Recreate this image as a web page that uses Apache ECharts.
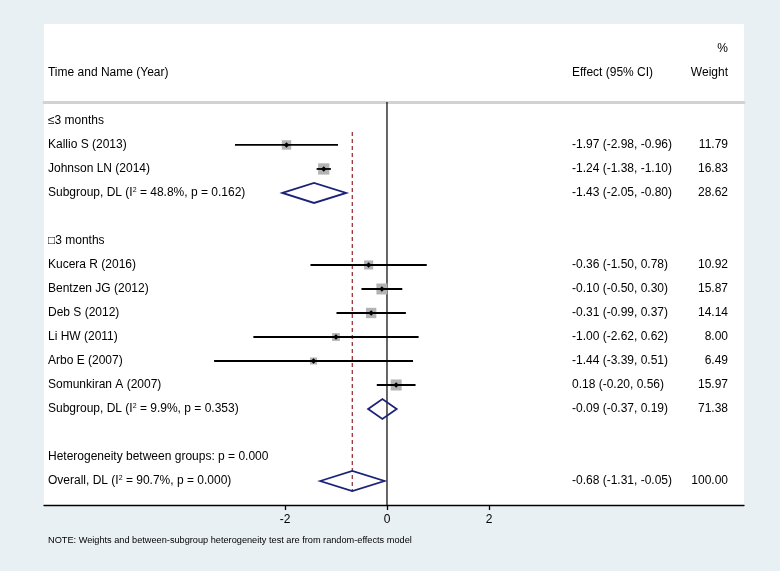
<!DOCTYPE html>
<html>
<head>
<meta charset="utf-8">
<script src="https://cdn.jsdelivr.net/npm/echarts@6/dist/echarts.min.js"></script>
<style>html,body{margin:0;padding:0;background:#e9f0f3;}#c{width:780px;height:571px;}</style>
</head>
<body>
<div id="c"></div>
<script>
// ---- data ----
var rowLabels = [
  "≤3 months",
  "Kallio S (2013)",
  "Johnson LN (2014)",
  "Subgroup, DL (I{sup|2} = 48.8%, p = 0.162)",
  "",
  "□3 months",
  "Kucera R (2016)",
  "Bentzen JG (2012)",
  "Deb S (2012)",
  "Li HW (2011)",
  "Arbo E (2007)",
  "Somunkiran A (2007)",
  "Subgroup, DL (I{sup|2} = 9.9%, p = 0.353)",
  "",
  "Heterogeneity between groups: p = 0.000",
  "Overall, DL (I{sup|2} = 90.7%, p = 0.000)"
];
// study rows: row index, effect, lower, upper, weight
var studyRows    = [1, 2, 6, 7, 8, 9, 10, 11];
var studyEffect  = [-1.97, -1.24, -0.36, -0.10, -0.31, -1.00, -1.44, 0.18];
var studyLower   = [-2.98, -1.38, -1.50, -0.50, -0.99, -2.62, -3.39, -0.20];
var studyUpper   = [-0.96, -1.10, 0.78, 0.30, 0.37, 0.62, 0.51, 0.56];
var studyWeight  = [11.79, 16.83, 10.92, 15.87, 14.14, 8.00, 6.49, 15.97];
// pooled rows (subgroups + overall)
var pooledRows   = [3, 12, 15];
var pooledEffect = [-1.43, -0.09, -0.68];
var pooledLower  = [-2.05, -0.37, -1.31];
var pooledUpper  = [-0.80, 0.19, -0.05];
var pooledWeight = [28.62, 71.38, 100.00];
var xTicks = [-2, 0, 2];
var headerLeft = "Time and Name (Year)";
var headerEffect = "Effect (95% CI)";
var headerWeight = "Weight";
var headerPct = "%";
var noteText = "NOTE: Weights and between-subgroup heterogeneity test are from random-effects model";

// ---- layout constants (data-space positions of text columns) ----
var X_MIN = -6.725, X_MAX = 7.0;
var Y_MIN = -0.79, Y_MAX = 16;
var COL_LABEL = -6.647, COL_EFFECT = 3.627, COL_WEIGHT = 6.686;
var FF = "'Liberation Sans', Arial, sans-serif";
var FONT = "12px " + FF;

function fmt(v){ return v.toFixed(2); }
function ciText(e,l,u){ return fmt(e) + " (" + fmt(l) + ", " + fmt(u) + ")"; }

// text table rows: [x, row, text, align]
var textData = [];
rowLabels.forEach(function(t, i){ if (t) textData.push([COL_LABEL, i, t, 'left']); });
studyRows.forEach(function(r, i){
  textData.push([COL_EFFECT, r, ciText(studyEffect[i], studyLower[i], studyUpper[i]), 'left']);
  textData.push([COL_WEIGHT, r, fmt(studyWeight[i]), 'right']);
});
pooledRows.forEach(function(r, i){
  textData.push([COL_EFFECT, r, ciText(pooledEffect[i], pooledLower[i], pooledUpper[i]), 'left']);
  textData.push([COL_WEIGHT, r, fmt(pooledWeight[i]), 'right']);
});
textData.push([COL_LABEL, -2, headerLeft, 'left']);
textData.push([COL_EFFECT, -2, headerEffect, 'left']);
textData.push([COL_WEIGHT, -2, headerWeight, 'right']);
textData.push([COL_WEIGHT, -3, headerPct, 'right']);

var studyData = studyRows.map(function(r, i){ return [studyEffect[i], r, studyLower[i], studyUpper[i], studyWeight[i]]; });
var pooledData = pooledRows.map(function(r, i){ return [pooledEffect[i], r, pooledLower[i], pooledUpper[i]]; });
var overallIdx = pooledRows.length - 1;
var refData = [
  [0, Y_MIN, Y_MAX, 0],
  [pooledEffect[overallIdx], 0.46, 15.45, 1]
];

var chart = echarts.init(document.getElementById('c'), null, {renderer: 'canvas'});
chart.setOption({
  backgroundColor: '#e9f0f3',
  animation: false,
  graphic: [
    {type: 'rect', z: -10, shape: {x: 44, y: 24, width: 700, height: 481}, style: {fill: '#ffffff'}},
    {type: 'text', left: 48, top: 536, style: {text: noteText, font: "9.2px " + FF, fill: '#000'}}
  ],
  grid: {left: 44, right: 36, top: 102, bottom: 66},
  xAxis: [{
    type: 'value', min: X_MIN, max: X_MAX, position: 'bottom',
    splitLine: {show: false},
    axisLine: {onZero: false, lineStyle: {color: '#000', width: 1.3}},
    axisTick: {customValues: xTicks, length: 5, lineStyle: {color: '#000', width: 1.3}},
    axisLabel: {customValues: xTicks, margin: 9, color: '#000', fontSize: 12, fontFamily: FF}
  }, {
    type: 'value', min: X_MIN, max: X_MAX, position: 'top',
    splitLine: {show: false},
    axisLine: {onZero: false, lineStyle: {color: '#d2d2d2', width: 3}},
    axisTick: {show: false}, axisLabel: {show: false}
  }],
  yAxis: {type: 'value', inverse: true, min: Y_MIN, max: Y_MAX, show: false},
  series: [
    {
      type: 'custom', clip: false, z: 3,
      data: refData,
      renderItem: function(params, api){
        var p1 = api.coord([api.value(0), api.value(1)]);
        var p2 = api.coord([api.value(0), api.value(2)]);
        var dashed = api.value(3) === 1;
        return {type: 'line', shape: {x1: p1[0], y1: p1[1], x2: p2[0], y2: p2[1]},
          style: dashed ? {stroke: '#9a343c', lineWidth: 1.3, lineDash: [4, 3]} : {stroke: '#000', lineWidth: 1.2}};
      }
    },
    {
      type: 'custom', clip: false, z: 4,
      data: studyData,
      renderItem: function(params, api){
        var c = api.coord([api.value(0), api.value(1)]);
        var l = api.coord([api.value(2), api.value(1)]);
        var u = api.coord([api.value(3), api.value(1)]);
        var s = 2.75 * Math.sqrt(api.value(4));
        var d = 2.8;
        return {type: 'group', children: [
          {type: 'rect', shape: {x: c[0] - s/2, y: c[1] - s/2, width: s, height: s}, style: {fill: '#b3b3b3'}},
          {type: 'line', shape: {x1: l[0], y1: c[1], x2: u[0], y2: c[1]}, style: {stroke: '#000', lineWidth: 1.8}},
          {type: 'polygon', shape: {points: [[c[0]-d, c[1]], [c[0], c[1]-d], [c[0]+d, c[1]], [c[0], c[1]+d]]}, style: {fill: '#000'}}
        ]};
      }
    },
    {
      type: 'custom', clip: false, z: 5,
      data: pooledData,
      renderItem: function(params, api){
        var c = api.coord([api.value(0), api.value(1)]);
        var l = api.coord([api.value(2), api.value(1)]);
        var u = api.coord([api.value(3), api.value(1)]);
        var h = 10;
        return {type: 'polygon', shape: {points: [[l[0], c[1]], [c[0], c[1]-h], [u[0], c[1]], [c[0], c[1]+h]]},
          style: {fill: 'none', stroke: '#1b2379', lineWidth: 1.8}};
      }
    },
    {
      type: 'custom', clip: false, z: 6,
      data: textData,
      renderItem: function(params, api){
        var p = api.coord([api.value(0), api.value(1)]);
        var item = textData[params.dataIndex];
        return {type: 'text', x: p[0], y: p[1], style: {
          text: item[2], font: FONT, fill: '#000', textAlign: item[3], textVerticalAlign: 'middle',
          rich: {sup: {fontSize: 7, fontFamily: FF, lineHeight: 7, verticalAlign: 'top', padding: [0, 0, 6, 0], fill: '#000'}}
        }};
      }
    }
  ]
});
</script>
</body>
</html>
